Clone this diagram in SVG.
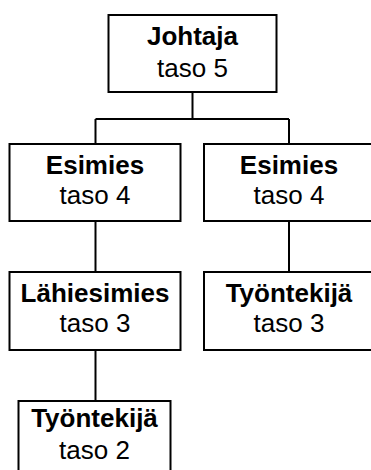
<svg xmlns="http://www.w3.org/2000/svg" width="371" height="470" viewBox="0 0 371 470">
<style>
.box{fill:#fff;stroke:#000;stroke-width:2}
.ln{fill:none;stroke:#000;stroke-width:2}
text{font-family:"Liberation Sans",Arial,sans-serif;font-size:26px;fill:#000;text-anchor:middle}
.b{font-weight:bold}
</style>
<rect width="371" height="470" fill="#fff"/>
<g id="connectors">
<path class="ln" d="M192.5 92V119M95.5 119H289M95.5 119V144M289 119V144"/>
<path class="ln" d="M95.5 221V272"/>
<path class="ln" d="M289 221V272"/>
<path class="ln" d="M95.5 350V401"/>
</g>
<g id="johtaja">
<rect class="box" x="108.5" y="15" width="168" height="77"/>
<text class="b" x="192.5" y="45">Johtaja</text><text x="192.5" y="76.5">taso 5</text>
</g>
<g id="esimies1">
<rect class="box" x="9.5" y="144" width="171" height="77"/>
<text class="b" x="95" y="173.5">Esimies</text><text x="95" y="204">taso 4</text>
</g>
<g id="esimies2">
<rect class="box" x="204" y="144" width="172" height="77"/>
<text class="b" x="289" y="173.5">Esimies</text><text x="289" y="204">taso 4</text>
</g>
<g id="lahiesimies">
<rect class="box" x="9.5" y="272" width="171" height="78"/>
<text class="b" x="95" y="301.5">Lähiesimies</text><text x="95" y="332">taso 3</text>
</g>
<g id="tyontekija3">
<rect class="box" x="204" y="272" width="172" height="78"/>
<text class="b" x="289" y="301.5">Työntekijä</text><text x="289" y="332">taso 3</text>
</g>
<g id="tyontekija2">
<rect class="box" x="18.5" y="401" width="152" height="78"/>
<text class="b" x="94.5" y="427">Työntekijä</text><text x="94.5" y="458.5">taso 2</text>
</g>
</svg>
